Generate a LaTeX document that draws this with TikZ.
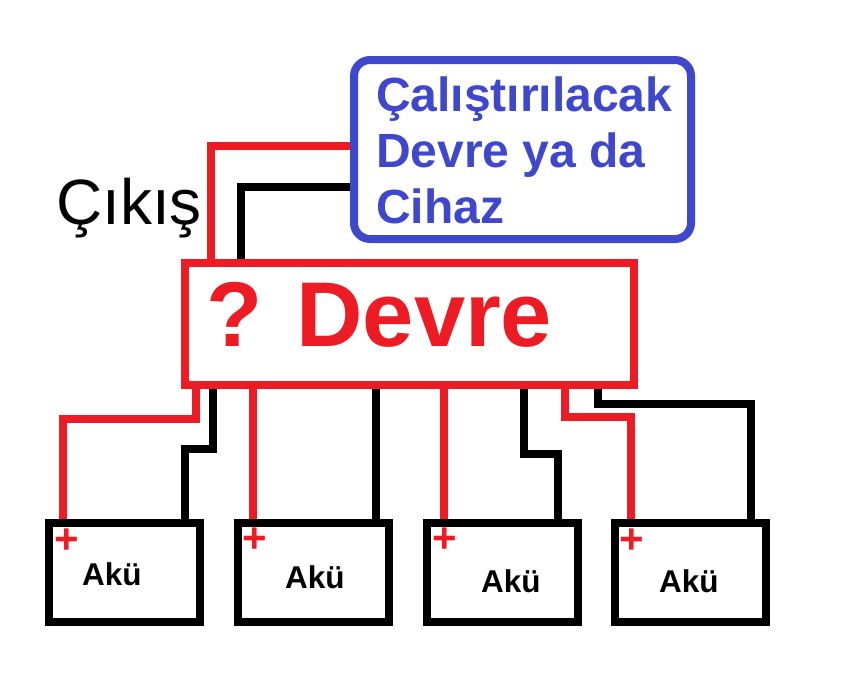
\documentclass[tikz,border=0pt]{standalone}
\usepackage{fontspec}
\setmainfont{Liberation Sans}
\definecolor{wred}{HTML}{ED1C24}
\definecolor{wblue}{HTML}{3F48CC}
\tikzset{
  box/.style={draw,line width=8pt,inner sep=0pt,outer sep=auto},
  batt/.style={box,draw=black,minimum width=151pt,minimum height=99pt},
  wire/.style={line width=8pt,line join=miter,line cap=butt},
  rw/.style={wire,draw=wred},
  kw/.style={wire,draw=black},
  txt/.style={anchor=base west,inner sep=0pt},
  aku/.style={txt,font=\fontsize{31.5}{31.5}\selectfont\bfseries},
  plus/.style={inner sep=0pt,text=wred,font=\fontsize{42}{42}\selectfont\bfseries},
}
\begin{document}
\begin{tikzpicture}[x=1pt,y=-1pt]
\useasboundingbox (0,0) rectangle (854,694);
\fill[white] (0,0) rectangle (854,694);
% boxes
\node[box,draw=wred,minimum width=449pt,minimum height=122pt] (dev) at (409.5,324) {};
\node[box,draw=wblue,rounded corners=16pt,minimum width=337pt,minimum height=179pt] (load) at (522.5,149.5) {};
\node[batt] (b1) at (124.5,572.5) {};
\node[batt] (b2) at (313.5,572.5) {};
\node[batt] (b3) at (502.5,572.5) {};
\node[batt] (b4) at (690.5,572.5) {};
% output wires
\draw[rw] ([xshift=30pt]dev.north west) |- ([yshift=-90pt]load.north west);
\draw[kw] ([xshift=60pt]dev.north west) |- ([yshift=-131pt]load.north west);
% battery wires
\draw[rw] ([xshift=15pt]dev.south west) -- ++(0,30) -| ([xshift=18pt]b1.north west);
\draw[kw] ([xshift=32pt]dev.south west) -- ++(0,60) -| ([xshift=140pt]b1.north west);
\draw[rw] ([xshift=72pt]dev.south west) -- ([xshift=19pt]b2.north west);
\draw[kw] ([xshift=195pt]dev.south west) -- ([xshift=142pt]b2.north west);
\draw[rw] ([xshift=263pt]dev.south west) -- ([xshift=21pt]b3.north west);
\draw[kw] ([xshift=343pt]dev.south west) -- ++(0,65) -| ([xshift=135pt]b3.north west);
\draw[rw] ([xshift=384pt]dev.south west) -- ++(0,28) -| ([xshift=20pt]b4.north west);
\draw[kw] ([xshift=417pt]dev.south west) -- ++(0,15) -| ([xshift=140pt]b4.north west);
% texts
\node[txt,font=\fontsize{64}{64}\selectfont] (cikis) at (56,224) {Çıkış};
\node[txt,text=wred,font=\fontsize{92}{92}\selectfont\bfseries] (devt) at (206,346) {? Devre};
\node[anchor=north west,inner sep=0pt,text=wblue,align=left,font=\fontsize{48}{56}\selectfont\bfseries] (loadt) at (376,77) {Çalıştırılacak\\Devre ya da\\Cihaz};
\node[aku] (a1) at (82,585) {Akü};
\node[aku] (a2) at (285,588) {Akü};
\node[aku] (a3) at (481,592) {Akü};
\node[aku] (a4) at (659,592) {Akü};
\node[plus] (p1) at (67,541) {+};
\node[plus] (p2) at (255,540) {+};
\node[plus] (p3) at (445,540) {+};
\node[plus] (p4) at (632,541) {+};
\end{tikzpicture}
\end{document}
